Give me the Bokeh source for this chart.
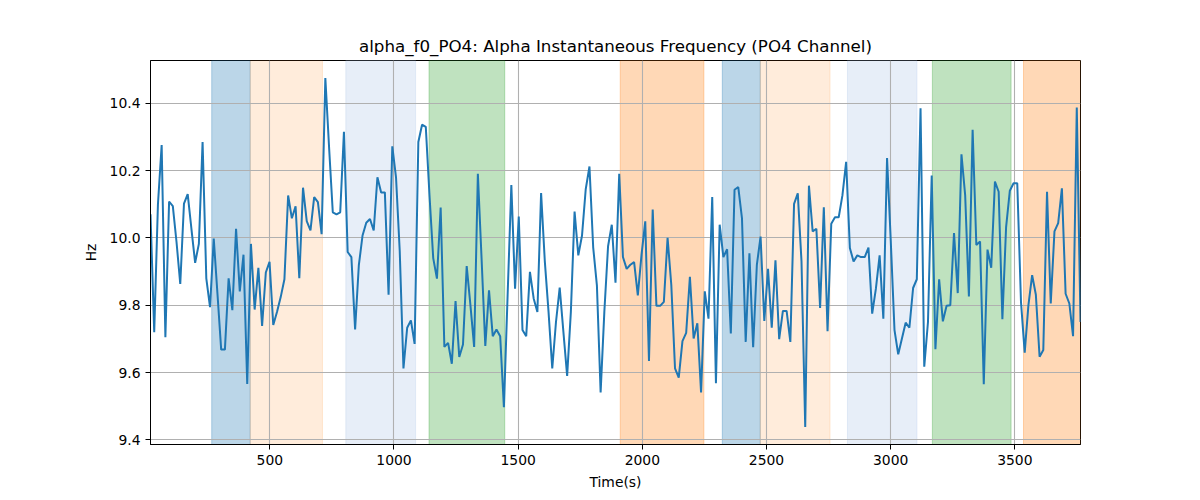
from bokeh.plotting import figure
from bokeh.models import BoxAnnotation, FixedTicker, Range1d, PrintfTickFormatter
from bokeh.embed import file_html
from bokeh.resources import INLINE

# ---- data ----
t_start = 19.5
t_step = 14.98
freq_hz = [
    10.07, 9.72, 10.10, 10.276, 9.705, 10.108, 10.094, 9.987, 9.863, 10.102,
    10.13, 10.027, 9.926, 9.982, 10.285, 9.88, 9.794, 9.998, 9.834, 9.668,
    9.668, 9.88, 9.785, 10.027, 9.841, 9.95, 9.566, 9.982, 9.787, 9.911,
    9.738, 9.897, 9.929, 9.741, 9.78, 9.824, 9.877, 10.126, 10.058, 10.094,
    9.88, 10.149, 10.05, 10.022, 10.121, 10.106, 10.011, 10.475, 10.27, 10.076,
    10.07, 10.076, 10.315, 9.958, 9.943, 9.728, 9.918, 10.007, 10.045, 10.056,
    10.022, 10.18, 10.135, 10.135, 9.831, 10.272, 10.18, 9.96, 9.612, 9.733,
    9.755, 9.685, 10.285, 10.336, 10.33, 10.126, 9.94, 9.879, 10.09, 9.676,
    9.688, 9.626, 9.812, 9.646, 9.683, 9.916, 9.80, 9.676, 10.19, 9.938,
    9.679, 9.844, 9.708, 9.728, 9.708, 9.497, 9.83, 10.157, 9.849, 10.063,
    9.726, 9.708, 9.899, 9.82, 9.78, 10.133, 9.93, 9.78, 9.612, 9.75,
    9.852, 9.72, 9.59, 9.78, 10.078, 9.948, 10.007, 10.145, 10.212, 9.972,
    9.859, 9.541, 9.78, 9.975, 10.039, 9.867, 10.19, 9.943, 9.908, 9.92,
    9.928, 9.829, 9.95, 10.049, 9.634, 10.084, 9.798, 9.798, 9.81, 10.0,
    9.86, 9.612, 9.585, 9.693, 9.718, 9.884, 9.701, 9.746, 9.541, 9.841,
    9.76, 10.121, 9.568, 10.039, 9.943, 9.966, 9.716, 10.143, 10.151, 10.058,
    9.691, 9.954, 9.675, 9.92, 10.004, 9.753, 9.908, 9.733, 9.933, 9.699,
    9.783, 9.783, 9.691, 10.101, 10.132, 9.93, 9.438, 10.155, 10.019, 10.027,
    9.792, 10.091, 9.723, 10.042, 10.061, 10.061, 10.126, 10.226, 9.97, 9.93,
    9.948, 9.943, 9.943, 9.971, 9.775, 9.849, 9.948, 9.76, 10.237, 9.99,
    9.726, 9.654, 9.701, 9.748, 9.733, 9.851, 9.877, 10.385, 9.617, 9.75,
    10.185, 9.669, 9.877, 9.752, 9.798, 9.80, 10.014, 9.836, 10.248, 10.126,
    9.826, 10.321, 9.979, 9.989, 9.565, 9.965, 9.911, 10.167, 10.137, 9.758,
    10.032, 10.14, 10.162, 10.162, 9.81, 9.659, 9.80, 9.889, 9.831, 9.647,
    9.667, 10.137, 9.805, 10.019, 10.044, 10.147, 9.834, 9.805, 9.708, 10.387,
    9.75,
]
time_s = [t_start + i * t_step for i in range(len(freq_hz))]

span_start = [266, 421, 806, 1141, 1911, 2322, 2475, 2826, 3168, 3535]
span_end = [421, 712, 1087, 1446, 2248, 2475, 2756, 3106, 3485, 3800]
span_color = ["#1f77b4", "#ff7f0e", "#aec7e8", "#2ca02c", "#ff7f0e",
              "#1f77b4", "#ff7f0e", "#aec7e8", "#2ca02c", "#ff7f0e"]
span_alpha = [0.3, 0.15, 0.3, 0.3, 0.3, 0.3, 0.15, 0.3, 0.3, 0.3]

x_ticks = [500, 1000, 1500, 2000, 2500, 3000, 3500]
y_ticks = [9.4, 9.6, 9.8, 10.0, 10.2, 10.4]

title_text = "alpha_f0_PO4: Alpha Instantaneous Frequency (PO4 Channel)"
x_label = "Time(s)"
y_label = "Hz"

# ---- figure ----
ymin, ymax = min(freq_hz), max(freq_hz)
pad = (ymax - ymin) * 0.05

p = figure(
    frame_width=930, frame_height=384,
    min_border_left=150, min_border_right=104,
    min_border_top=60, min_border_bottom=48,
    x_range=Range1d(time_s[0], time_s[-1]),
    y_range=Range1d(ymin - pad, ymax + pad),
    output_backend="svg", toolbar_location=None,
    title=title_text,
)
p.background_fill_color = "white"
p.border_fill_color = "white"
p.outline_line_color = "black"
p.outline_line_width = 1

for s, e, c, a in zip(span_start, span_end, span_color, span_alpha):
    box = BoxAnnotation(left=s, right=e, fill_color=c, fill_alpha=a,
                        line_color=c, line_alpha=a, line_width=1, level="image")
    p.add_layout(box)

p.line(time_s, freq_hz, line_color="#1f77b4", line_width=2)

p.title.text_font = "DejaVu Sans"
p.title.text_font_size = "16.7px"
p.title.text_font_style = "normal"
p.title.align = "center"
p.title.text_color = "black"

p.xaxis.ticker = FixedTicker(ticks=x_ticks)
p.yaxis.ticker = FixedTicker(ticks=y_ticks)
p.yaxis.formatter = PrintfTickFormatter(format="%.1f")
p.xaxis.axis_label = x_label
p.yaxis.axis_label = y_label
for ax in (p.xaxis, p.yaxis):
    ax.axis_label_text_font = "DejaVu Sans"
    ax.axis_label_text_font_size = "13.9px"
    ax.axis_label_text_font_style = "normal"
    ax.axis_label_text_color = "black"
    ax.major_label_text_font = "DejaVu Sans"
    ax.major_label_text_font_size = "13.9px"
    ax.major_label_text_color = "black"
    ax.major_tick_out = 5
    ax.major_tick_in = 0
    ax.minor_tick_out = 0
    ax.minor_tick_in = 0
    ax.axis_line_color = "black"
    ax.major_tick_line_color = "black"
p.xaxis.axis_label_standoff = 6
p.yaxis.axis_label_standoff = 8

p.xgrid.grid_line_color = "#b0b0b0"
p.ygrid.grid_line_color = "#b0b0b0"
p.xgrid.grid_line_width = 1.1
p.ygrid.grid_line_width = 1.1

open("out.html", "w").write(file_html(p, INLINE))
